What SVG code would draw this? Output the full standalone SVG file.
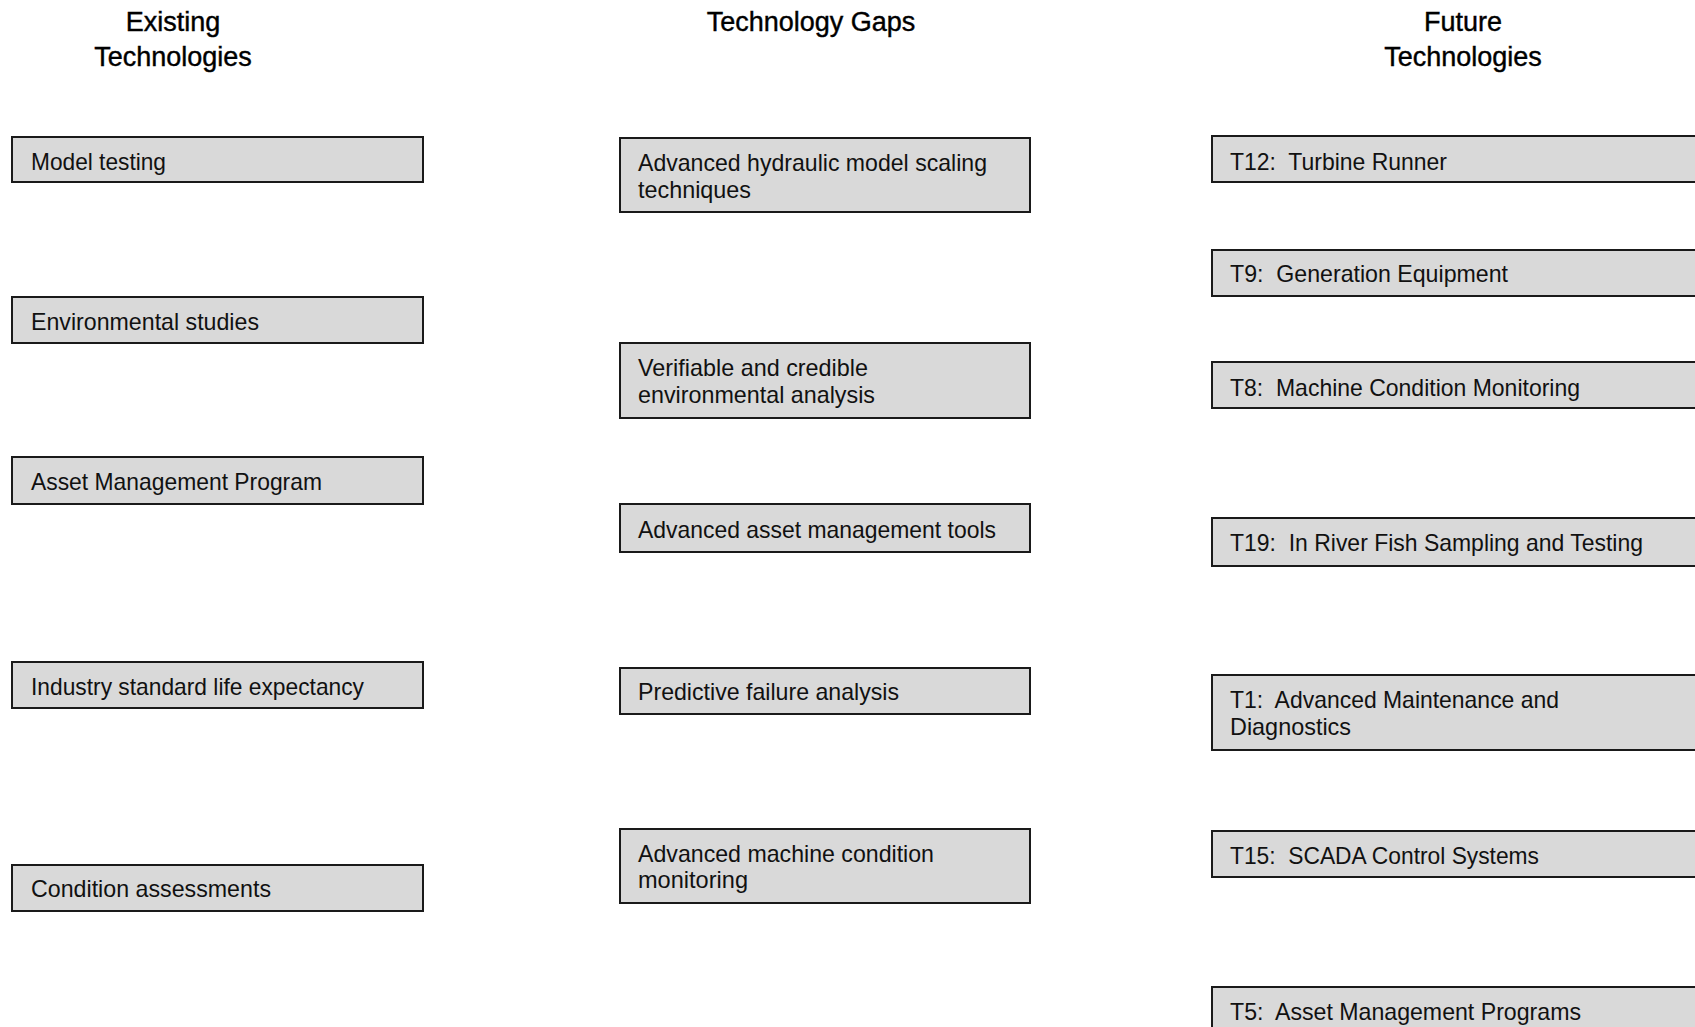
<svg xmlns="http://www.w3.org/2000/svg" width="1695" height="1027" viewBox="0 0 1695 1027">
  <style>
    .box { fill: #d9d9d9; stroke: #1a1a1a; stroke-width: 2; }
    .lbl { font-family: "Liberation Sans", Arial, sans-serif; font-size: 23.4px; fill: #111; }
    .head { font-family: "Liberation Sans", Arial, sans-serif; font-size: 27px; fill: #000; stroke: #000; stroke-width: 0.4; text-anchor: middle; }
  </style>
  <rect width="1695" height="1027" fill="#ffffff"/>

  <!-- column headings -->
  <g id="headings">
    <text class="head" x="173" y="31">Existing</text>
    <text class="head" x="173" y="65.5">Technologies</text>
    <text class="head" x="811" y="31">Technology Gaps</text>
    <text class="head" x="1463" y="31">Future</text>
    <text class="head" x="1463" y="65.5">Technologies</text>
  </g>

  <!-- existing technologies column -->
  <g id="ex-model-testing">
    <rect class="box" x="12" y="137" width="411" height="45"/>
    <text class="lbl" x="31" y="169.5" textLength="135" lengthAdjust="spacingAndGlyphs">Model testing</text>
  </g>
  <g id="ex-environmental-studies">
    <rect class="box" x="12" y="297" width="411" height="46"/>
    <text class="lbl" x="31" y="329.5" textLength="228" lengthAdjust="spacingAndGlyphs">Environmental studies</text>
  </g>
  <g id="ex-asset-management">
    <rect class="box" x="12" y="457" width="411" height="47"/>
    <text class="lbl" x="31" y="489.5" textLength="291" lengthAdjust="spacingAndGlyphs">Asset Management Program</text>
  </g>
  <g id="ex-life-expectancy">
    <rect class="box" x="12" y="662" width="411" height="46"/>
    <text class="lbl" x="31" y="694.5" textLength="333" lengthAdjust="spacingAndGlyphs">Industry standard life expectancy</text>
  </g>
  <g id="ex-condition-assessments">
    <rect class="box" x="12" y="865" width="411" height="46"/>
    <text class="lbl" x="31" y="897" textLength="240" lengthAdjust="spacingAndGlyphs">Condition assessments</text>
  </g>

  <!-- technology gaps column -->
  <g id="gap-hydraulic-scaling">
    <rect class="box" x="620" y="138" width="410" height="74"/>
    <text class="lbl" x="638" y="171" textLength="349" lengthAdjust="spacingAndGlyphs">Advanced hydraulic model scaling</text>
    <text class="lbl" x="638" y="197.5" textLength="113" lengthAdjust="spacingAndGlyphs">techniques</text>
  </g>
  <g id="gap-environmental-analysis">
    <rect class="box" x="620" y="343" width="410" height="75"/>
    <text class="lbl" x="638" y="375.5" textLength="230" lengthAdjust="spacingAndGlyphs">Verifiable and credible</text>
    <text class="lbl" x="638" y="402.5" textLength="237" lengthAdjust="spacingAndGlyphs">environmental analysis</text>
  </g>
  <g id="gap-asset-tools">
    <rect class="box" x="620" y="504" width="410" height="48"/>
    <text class="lbl" x="638" y="537.5" textLength="358" lengthAdjust="spacingAndGlyphs">Advanced asset management tools</text>
  </g>
  <g id="gap-predictive-failure">
    <rect class="box" x="620" y="668" width="410" height="46"/>
    <text class="lbl" x="638" y="700" textLength="261" lengthAdjust="spacingAndGlyphs">Predictive failure analysis</text>
  </g>
  <g id="gap-machine-monitoring">
    <rect class="box" x="620" y="829" width="410" height="74"/>
    <text class="lbl" x="638" y="862" textLength="296" lengthAdjust="spacingAndGlyphs">Advanced machine condition</text>
    <text class="lbl" x="638" y="888" textLength="110" lengthAdjust="spacingAndGlyphs">monitoring</text>
  </g>

  <!-- future technologies column (boxes run past the right edge) -->
  <g id="fut-t12">
    <rect class="box" x="1212" y="136" width="500" height="46"/>
    <text class="lbl" x="1230" y="169.5" xml:space="preserve" textLength="217" lengthAdjust="spacingAndGlyphs">T12:  Turbine Runner</text>
  </g>
  <g id="fut-t9">
    <rect class="box" x="1212" y="250" width="500" height="46"/>
    <text class="lbl" x="1230" y="282" xml:space="preserve" textLength="278" lengthAdjust="spacingAndGlyphs">T9:  Generation Equipment</text>
  </g>
  <g id="fut-t8">
    <rect class="box" x="1212" y="362" width="500" height="46"/>
    <text class="lbl" x="1230" y="395.5" xml:space="preserve" textLength="350" lengthAdjust="spacingAndGlyphs">T8:  Machine Condition Monitoring</text>
  </g>
  <g id="fut-t19">
    <rect class="box" x="1212" y="518" width="500" height="48"/>
    <text class="lbl" x="1230" y="550.5" xml:space="preserve" textLength="413" lengthAdjust="spacingAndGlyphs">T19:  In River Fish Sampling and Testing</text>
  </g>
  <g id="fut-t1">
    <rect class="box" x="1212" y="675" width="500" height="75"/>
    <text class="lbl" x="1230" y="708" xml:space="preserve" textLength="329" lengthAdjust="spacingAndGlyphs">T1:  Advanced Maintenance and</text>
    <text class="lbl" x="1230" y="735" textLength="121" lengthAdjust="spacingAndGlyphs">Diagnostics</text>
  </g>
  <g id="fut-t15">
    <rect class="box" x="1212" y="831" width="500" height="46"/>
    <text class="lbl" x="1230" y="863.5" xml:space="preserve" textLength="309" lengthAdjust="spacingAndGlyphs">T15:  SCADA Control Systems</text>
  </g>
  <g id="fut-t5">
    <rect class="box" x="1212" y="987" width="500" height="46"/>
    <text class="lbl" x="1230" y="1019.5" xml:space="preserve" textLength="351" lengthAdjust="spacingAndGlyphs">T5:  Asset Management Programs</text>
  </g>

  <!-- connectors: none drawn between the columns -->
  <g id="connectors"/>
</svg>
